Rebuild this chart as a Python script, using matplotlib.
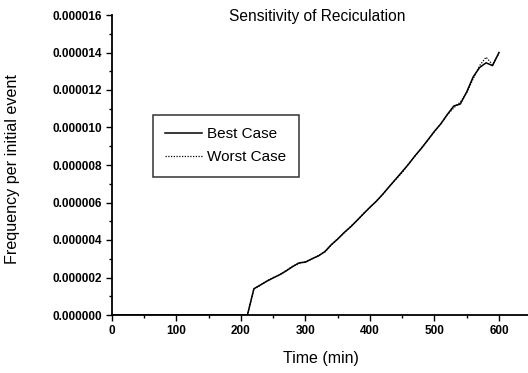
import matplotlib
matplotlib.use("Agg")
import matplotlib.pyplot as plt
from matplotlib.ticker import MultipleLocator, FormatStrFormatter

plt.rcParams['font.family'] = ['Liberation Sans', 'DejaVu Sans']

time_min = [0, 50, 100, 150, 200, 210, 220, 230, 240, 250, 260, 270, 280, 290, 300,
            310, 320, 330, 340, 350, 360, 370, 380, 390, 400, 410, 420, 430, 440,
            450, 460, 470, 480, 490, 500, 510, 520, 530, 540, 550, 560, 570, 580,
            590, 600]
best_case = [0, 0, 0, 0, 0, 0, 1.40, 1.60, 1.80, 1.98, 2.15, 2.35, 2.58, 2.78, 2.82,
             3.00, 3.15, 3.38, 3.75, 4.05, 4.40, 4.70, 5.05, 5.40, 5.75, 6.07, 6.45,
             6.85, 7.25, 7.65, 8.05, 8.50, 8.90, 9.35, 9.80, 10.20, 10.70, 11.15,
             11.25, 11.90, 12.70, 13.20, 13.45, 13.30, 14.00]
worst_case = [0, 0, 0, 0, 0, 0, 1.38, 1.58, 1.82, 2.00, 2.13, 2.37, 2.60, 2.75, 2.85,
              2.98, 3.17, 3.36, 3.73, 4.07, 4.38, 4.72, 5.03, 5.42, 5.73, 6.09, 6.43,
              6.87, 7.23, 7.60, 8.07, 8.48, 8.92, 9.33, 9.78, 10.22, 10.68, 11.05,
              11.35, 11.85, 12.60, 13.30, 13.75, 13.35, 13.95]
scale = 1e-6

W, H = 528, 373
fig = plt.figure(figsize=(W / 100, H / 100), dpi=100)
ax = fig.add_axes([112 / W, 1 - 315 / H, (W - 112) / W, 300 / H])

ax.plot(time_min, [v * scale for v in best_case], color='black', lw=1.1,
        linestyle='-', label='Best Case')
ax.plot(time_min, [v * scale for v in worst_case], color='black', lw=0.9,
        linestyle=(0, (1, 1.2)), label='Worst Case')

ax.set_xlim(0, 645)
ax.set_ylim(0, 16e-6)
ax.xaxis.set_major_locator(MultipleLocator(100))
ax.xaxis.set_minor_locator(MultipleLocator(50))
ax.yaxis.set_major_locator(MultipleLocator(2e-6))
ax.yaxis.set_minor_locator(MultipleLocator(1e-6))
ax.yaxis.set_major_formatter(FormatStrFormatter('%.6f'))

for s in ['top', 'right']:
    ax.spines[s].set_visible(False)
for s in ['left', 'bottom']:
    ax.spines[s].set_linewidth(1.3)

ax.tick_params(which='major', direction='out', length=4, width=1, labelsize=8.5, pad=3)
ax.tick_params(which='minor', direction='out', length=2, width=1)
for lab in ax.get_xticklabels() + ax.get_yticklabels():
    lab.set_fontweight('bold')

fig.text(321 / W, 1 - 359 / H, 'Time (min)', fontsize=11.5, ha='center', va='center')
fig.text(13 / W, 1 - 169 / H, 'Frequency per initial event', fontsize=11.6,
         rotation=90, ha='center', va='center')
fig.text(317.5 / W, 1 - 17 / H, 'Sensitivity of Reciculation', fontsize=11.2,
         ha='center', va='center')

leg = ax.legend(loc='upper left', bbox_to_anchor=(41 / 416, 200 / 300), borderaxespad=0,
                fancybox=False, frameon=True, fontsize=11, handlelength=2.4,
                handletextpad=0.35, borderpad=0.8, labelspacing=0.6)
leg.get_frame().set_edgecolor('black')
leg.get_frame().set_linewidth(1.1)

fig.savefig('out.png', dpi=100)
